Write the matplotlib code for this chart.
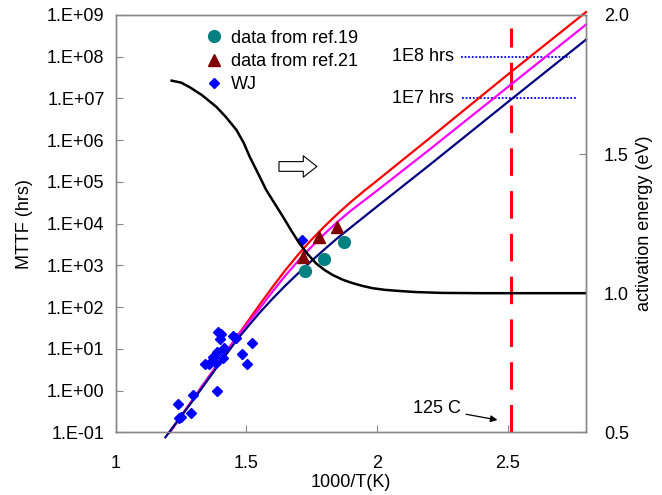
import matplotlib
matplotlib.use("Agg")
import matplotlib.pyplot as plt
import numpy as np
from matplotlib.ticker import FixedLocator, FuncFormatter

plt.rcParams['font.family'] = ['Liberation Sans', 'DejaVu Sans']
plt.rcParams['font.size'] = 13

# MTTF model curves, x = 1000/T, y = log10(MTTF in hrs)
red_x = [1.207, 1.3, 1.4, 1.468, 1.55, 1.6, 1.65, 1.7, 1.75, 1.8, 1.85, 1.9, 1.95, 2.0, 2.2, 2.5, 2.8]
red_y = [-1.0, -0.17, 0.72, 1.33, 2.05, 2.48, 2.89, 3.27, 3.62, 3.94, 4.24, 4.52, 4.78, 5.03, 6.04, 7.57, 9.07]

mag_x = [1.207, 1.3, 1.4, 1.468, 1.55, 1.6, 1.65, 1.7, 1.75, 1.8, 1.85, 1.9, 1.95, 2.0, 2.2, 2.5, 2.8]
mag_y = [-1.0, -0.17, 0.72, 1.32, 1.96, 2.37, 2.76, 3.12, 3.45, 3.76, 4.05, 4.31, 4.55, 4.79, 5.77, 7.27, 8.77]

navy_x = [1.19, 1.3, 1.4, 1.468, 1.55, 1.6, 1.65, 1.7, 1.75, 1.8, 1.85, 1.9, 1.95, 2.0, 2.2, 2.5, 2.8]
navy_y = [-1.12, -0.2, 0.67, 1.25, 1.86, 2.2, 2.52, 2.82, 3.11, 3.39, 3.66, 3.91, 4.16, 4.41, 5.40, 6.91, 8.41]

# activation energy (eV), right axis
ea_x = [1.214, 1.25, 1.284, 1.33, 1.385, 1.42, 1.462, 1.49, 1.513, 1.545, 1.576, 1.61, 1.64, 1.67,
        1.703, 1.735, 1.767, 1.8, 1.831, 1.87, 1.907, 1.945, 1.983, 2.03, 2.085, 2.15, 2.25, 2.4, 2.8]
ea_y = [1.764, 1.757, 1.740, 1.712, 1.670, 1.635, 1.587, 1.54, 1.49, 1.43, 1.371, 1.32, 1.275, 1.228,
        1.179, 1.14, 1.107, 1.083, 1.065, 1.048, 1.036, 1.026, 1.018, 1.012, 1.008, 1.004, 1.001, 1.0, 1.0]

# measured points
ref19_x = [1.726, 1.796, 1.875]
ref19_y = [2.875, 3.156, 3.556]
ref21_x = [1.716, 1.777, 1.847]
ref21_y = [3.21, 3.69, 3.93]
wj_x = [1.237, 1.242, 1.249, 1.289, 1.296, 1.388, 1.342, 1.357, 1.383, 1.373, 1.388,
        1.411, 1.415, 1.393, 1.403, 1.399, 1.449, 1.462, 1.482, 1.501, 1.523, 1.714]
wj_y = [-0.32, -0.664, -0.64, -0.528, -0.096, -0.008, 0.64, 0.648, 0.656, 0.816, 0.92,
        0.792, 1.008, 1.392, 1.36, 1.232, 1.296, 1.264, 0.888, 0.648, 1.136, 3.608]

t_125C = 125  # deg C
x_125 = 1000 / (t_125C + 273.15)

fig = plt.figure(figsize=(6.62, 4.95), dpi=100)
ax = fig.add_axes([0.1748, 0.1267, 0.7104, 0.8430])
ax2 = ax.twinx()

def p10(v):
    return 10 ** np.array(v)

ax.plot(red_x, p10(red_y), color='#ff0000', lw=1.6, clip_on=False, zorder=3)
ax.plot(mag_x, p10(mag_y), color='#ff00ff', lw=1.6, clip_on=False, zorder=3)
ax.plot(navy_x, p10(navy_y), color='#000080', lw=1.6, clip_on=False, zorder=3)

ax.plot(ref19_x, p10(ref19_y), 'o', color='#008080', ms=8.5, ls='none', label='data from ref.19', zorder=4)
ax.plot(ref21_x, p10(ref21_y), '^', color='#800000', ms=9, ls='none', label='data from ref.21', zorder=4)
ax.plot(wj_x, p10(wj_y), 'D', color='#0000ff', ms=5.5, ls='none', label='WJ', zorder=4)

# 125 C marker line
ax.plot([x_125, x_125], [1e-1, 5e8], color='#ff0000', lw=2.2, dashes=(9, 5), zorder=2)
ax.annotate('125 C', xy=(2.461, 10 ** -0.705), xytext=(2.32, 10 ** -0.44),
            ha='right', va='center',
            arrowprops=dict(arrowstyle='-|>', color='black', lw=0.9, mutation_scale=10,
                            shrinkA=2, shrinkB=0))

# lifetime targets
ax.plot([2.321, 2.740], [1e8, 1e8], color='#0000ff', lw=1.3, ls=(0, (1, 1)))
ax.plot([2.324, 2.760], [1e7, 1e7], color='#0000ff', lw=1.3, ls=(0, (1, 1)))
ax.text(2.295, 1e8, '1E8 hrs', ha='right', va='center')
ax.text(2.295, 1e7, '1E7 hrs', ha='right', va='center')

# hollow arrow pointing at the right axis
ax.annotate('', xy=(1.77, 10 ** 5.37), xytext=(1.625, 10 ** 5.37),
            arrowprops=dict(arrowstyle='simple,head_length=0.7,head_width=1.1,tail_width=0.5',
                            fc='white', ec='black', lw=0.8, mutation_scale=14,
                            shrinkA=0, shrinkB=0))

ax2.plot(ea_x, ea_y, color='black', lw=1.8)

ax.set_yscale('log')
ax.set_xlim(1, 2.8)
ax.set_ylim(1e-1, 1e9)
ax2.set_ylim(0.5, 2.0)

ax.xaxis.set_major_locator(FixedLocator([1, 1.5, 2, 2.5]))
ax.xaxis.set_major_formatter(FuncFormatter(lambda v, p: f'{v:g}'))
ax.yaxis.set_major_locator(FixedLocator([10.0 ** e for e in range(-1, 10)]))
ax.yaxis.set_minor_locator(FixedLocator([]))
ax.yaxis.set_major_formatter(FuncFormatter(lambda v, p: f'1.E{int(round(np.log10(v))):+03d}'))
ax2.yaxis.set_major_locator(FixedLocator([0.5, 1.0, 1.5, 2.0]))
ax2.yaxis.set_major_formatter(FuncFormatter(lambda v, p: f'{v:.1f}'))

for a in (ax, ax2):
    for s in a.spines.values():
        s.set_color('#888888')
        s.set_linewidth(1.0)
    a.tick_params(direction='in', length=5, color='#888888', labelsize=13)
ax.tick_params(axis='x', pad=16)
ax.tick_params(axis='y', pad=8)
ax2.tick_params(axis='y', pad=13)

ax.set_xlabel('1000/T(K)', labelpad=2)
ax.set_ylabel('MTTF (hrs)', labelpad=10)
ax2.set_ylabel('activation energy (eV)', labelpad=5)

ax.legend(loc='upper left', bbox_to_anchor=(0.163, 0.995), frameon=False,
          handlelength=1.0, handletextpad=0.45, labelspacing=0.35, borderpad=0.2,
          fontsize=13)

fig.savefig('out.png', dpi=100)
